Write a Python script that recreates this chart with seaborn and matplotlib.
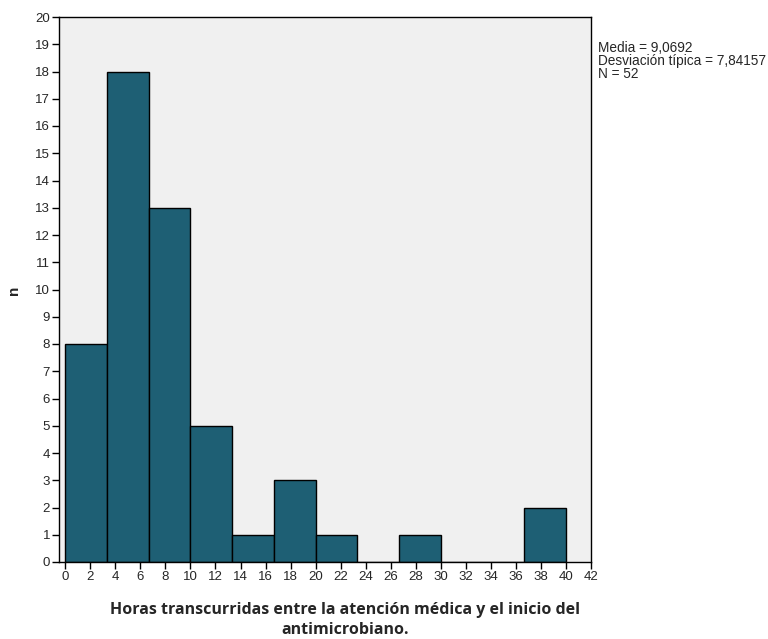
import matplotlib
matplotlib.use("Agg")
import matplotlib.pyplot as plt
import seaborn as sns
import numpy as np
import pandas as pd

# Data
bin_edges = [0, 10/3, 20/3, 10, 40/3, 50/3, 20, 70/3, 80/3, 30, 100/3, 110/3, 40]
counts = [8, 18, 13, 5, 1, 3, 1, 0, 1, 0, 0, 2]
x_ticks = list(range(0, 43, 2))
y_ticks = list(range(0, 21))
stats_text = "Media = 9,0692\nDesviación típica = 7,84157\nN = 52"
x_label = "Horas transcurridas entre la atención médica y el inicio del\nantimicrobiano."
y_label = "n"

centers = [(bin_edges[i] + bin_edges[i + 1]) / 2 for i in range(len(counts))]
df = pd.DataFrame({"x": centers, "w": counts})

sns.set_style("white")
plt.rcParams['font.family'] = ['Liberation Sans', 'DejaVu Sans']

fig = plt.figure(figsize=(7.68, 6.39), dpi=100)
ax = fig.add_axes([59/768, 1 - 562/639, (591 - 59)/768, (562 - 17)/639])
ax.set_facecolor("#f0f0f0")

sns.histplot(data=df, x="x", weights="w", bins=bin_edges, ax=ax,
             color="#1e5f74", alpha=1, edgecolor="black", linewidth=1.0)

ax.set_xlim(-0.5, 42)
ax.set_ylim(0, 20)
ax.set_xticks(x_ticks)
ax.set_yticks(y_ticks)
ax.tick_params(axis="both", direction="out", length=5, width=1, color="black",
               labelsize=9.5, pad=1.5, bottom=True, left=True)
for s in ax.spines.values():
    s.set_color("black")
    s.set_linewidth(1)
ax.set_xlabel("")
ax.set_ylabel("")

fig.text(14/768, 1 - 290/639, y_label, rotation=90, ha="center", va="center",
         fontsize=11, fontweight="bold")
fig.text(345/768, 1 - 620/639, x_label, ha="center", va="center",
         fontsize=11.5, fontweight="bold", linespacing=1.35,
         family=['Open Sans', 'DejaVu Sans'])
fig.text(598/768, 1 - 41/639, stats_text, ha="left", va="top", fontsize=9.8,
         linespacing=0.9)

fig.savefig("out.png", dpi=100, facecolor="white")
